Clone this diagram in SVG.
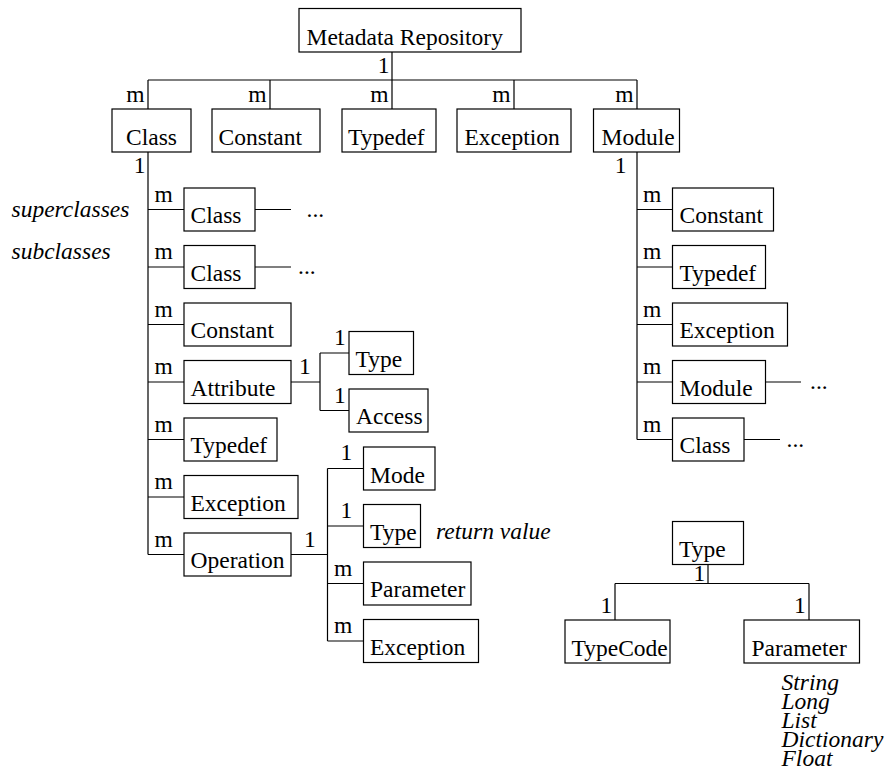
<svg xmlns="http://www.w3.org/2000/svg" width="885" height="781" viewBox="0 0 885 781" font-family="'Liberation Serif', 'DejaVu Serif', serif">
  <style>
    .box { fill: #fff; stroke: #000; stroke-width: 1.2; }
    .wire { fill: none; stroke: #000; stroke-width: 1.2; }
    text { font-family: 'Liberation Serif', 'DejaVu Serif', serif; font-size: 23.5px; fill: #000; }
    .it { font-style: italic; }
    .end { text-anchor: end; }
  </style>
  <rect width="885" height="781" fill="#fff"/>

  <!-- connectors -->
  <g id="connectors" class="wire">
    <path d="M392 52 V80 M148 80 H637 M148 80 V109 M270 80 V109 M392 80 V109 M514 80 V109 M637 80 V109"/>
    <!-- Class members -->
    <path d="M148 152 V554.5 M148 209.5 H184 M148 267 H184 M148 324.5 H184 M148 382 H184 M148 439.5 H184 M148 497 H184 M148 554.5 H184"/>
    <path d="M255 209.5 H291 M255 267 H291"/>
    <!-- Attribute -->
    <path d="M291 382 H320 M320 353 V410.5 M320 353 H349 M320 410.5 H349"/>
    <!-- Operation -->
    <path d="M291 554.5 H327.5 M327.5 468.5 V641 M327.5 468.5 H363.5 M327.5 526 H363.5 M327.5 583.5 H363.5 M327.5 641 H363.5"/>
    <!-- Module members -->
    <path d="M637 152 V439.5 M637 209.5 H672.5 M637 267 H672.5 M637 324.5 H672.5 M637 382 H672.5 M637 439.5 H672.5"/>
    <path d="M765.5 382 H801 M744 439.5 H780"/>
    <!-- Type -->
    <path d="M708 564.5 V583.5 M615 583.5 H809 M615 583.5 V620 M809 583.5 V620"/>
  </g>

  <!-- multiplicity labels -->
  <g id="multiplicities">
    <text class="end" x="389.5" y="72.5">1</text>
    <text class="end" x="144.5" y="101.5">m</text>
    <text class="end" x="266.5" y="101.5">m</text>
    <text class="end" x="388.5" y="101.5">m</text>
    <text class="end" x="510.5" y="101.5">m</text>
    <text class="end" x="633.5" y="101.5">m</text>
    <text class="end" x="145.5" y="173">1</text>
    <text class="end" x="626.5" y="173">1</text>
    <text x="154.5" y="201.5">m</text>
    <text x="154.5" y="259">m</text>
    <text x="154.5" y="316.5">m</text>
    <text x="154.5" y="374">m</text>
    <text x="154.5" y="431.5">m</text>
    <text x="154.5" y="489">m</text>
    <text x="154.5" y="546.5">m</text>
    <text x="299" y="373.5">1</text>
    <text x="334" y="345">1</text>
    <text x="334" y="403">1</text>
    <text x="304" y="546.5">1</text>
    <text x="340.5" y="460">1</text>
    <text x="340.5" y="518">1</text>
    <text x="334" y="575.5">m</text>
    <text x="334" y="632.5">m</text>
    <text x="643" y="201.5">m</text>
    <text x="643" y="259">m</text>
    <text x="643" y="316.5">m</text>
    <text x="643" y="374">m</text>
    <text x="643" y="431.5">m</text>
    <text x="693.5" y="580.5">1</text>
    <text x="600.5" y="612.5">1</text>
    <text x="794" y="612.5">1</text>
  </g>

  <!-- continuation marks and annotations -->
  <g id="annotations">
    <text x="306.5" y="216.5">...</text>
    <text x="298" y="274">...</text>
    <text x="810" y="389">...</text>
    <text x="786.5" y="446.5">...</text>
    <text class="it" x="11.5" y="217">superclasses</text>
    <text class="it" x="11.5" y="259">subclasses</text>
    <text class="it" x="436" y="538.5">return value</text>
    <text class="it" x="781.5" y="690">String</text>
    <text class="it" x="781.5" y="709">Long</text>
    <text class="it" x="781.5" y="728">List</text>
    <text class="it" x="781.5" y="747">Dictionary</text>
    <text class="it" x="781.5" y="766">Float</text>
  </g>

  <!-- top level -->
  <g id="n-repository"><rect class="box" x="299" y="8.5" width="222" height="43.5"/><text x="306.5" y="45">Metadata Repository</text></g>
  <g id="n-class"><rect class="box" x="112" y="109" width="79" height="43"/><text x="126" y="145">Class</text></g>
  <g id="n-constant"><rect class="box" x="212" y="109" width="108" height="43"/><text x="218.5" y="145">Constant</text></g>
  <g id="n-typedef"><rect class="box" x="342" y="109" width="94" height="43"/><text x="348" y="145">Typedef</text></g>
  <g id="n-exception"><rect class="box" x="457" y="109" width="114" height="43"/><text x="464.5" y="145">Exception</text></g>
  <g id="n-module"><rect class="box" x="593.5" y="109" width="86" height="43"/><text x="601.5" y="145">Module</text></g>

  <!-- class members -->
  <g id="c-superclass"><rect class="box" x="184" y="188" width="71" height="43"/><text x="190.5" y="223">Class</text></g>
  <g id="c-subclass"><rect class="box" x="184" y="245.5" width="71" height="43"/><text x="190.5" y="280.5">Class</text></g>
  <g id="c-constant"><rect class="box" x="184" y="303" width="107" height="43"/><text x="190.5" y="338">Constant</text></g>
  <g id="c-attribute"><rect class="box" x="184" y="360.5" width="107" height="43"/><text x="190.5" y="395.5">Attribute</text></g>
  <g id="c-typedef"><rect class="box" x="184" y="418" width="93" height="43"/><text x="190.5" y="453">Typedef</text></g>
  <g id="c-exception"><rect class="box" x="184" y="475.5" width="114" height="43"/><text x="190.5" y="510.5">Exception</text></g>
  <g id="c-operation"><rect class="box" x="184" y="533" width="107" height="43"/><text x="190.5" y="568">Operation</text></g>

  <!-- attribute parts -->
  <g id="a-type"><rect class="box" x="349" y="331.5" width="64.5" height="43"/><text x="355.5" y="366.5">Type</text></g>
  <g id="a-access"><rect class="box" x="349" y="389" width="79" height="43"/><text x="356" y="424">Access</text></g>

  <!-- operation parts -->
  <g id="o-mode"><rect class="box" x="363.5" y="447" width="71.5" height="43"/><text x="370" y="482.5">Mode</text></g>
  <g id="o-type"><rect class="box" x="363.5" y="504.5" width="57" height="43"/><text x="370" y="539.5">Type</text></g>
  <g id="o-parameter"><rect class="box" x="363.5" y="562" width="107.5" height="43"/><text x="370" y="597">Parameter</text></g>
  <g id="o-exception"><rect class="box" x="363.5" y="619.5" width="115" height="43"/><text x="370" y="654.5">Exception</text></g>

  <!-- module members -->
  <g id="m-constant"><rect class="box" x="672.5" y="188" width="101" height="43"/><text x="679.5" y="223">Constant</text></g>
  <g id="m-typedef"><rect class="box" x="672.5" y="245.5" width="93" height="43"/><text x="679.5" y="280.5">Typedef</text></g>
  <g id="m-exception"><rect class="box" x="672.5" y="303" width="115" height="43"/><text x="679.5" y="338">Exception</text></g>
  <g id="m-module"><rect class="box" x="672.5" y="360.5" width="93" height="43"/><text x="679.5" y="395.5">Module</text></g>
  <g id="m-class"><rect class="box" x="672.5" y="418" width="71.5" height="43"/><text x="679.5" y="453">Class</text></g>

  <!-- type structure -->
  <g id="t-type"><rect class="box" x="672.5" y="521.5" width="71" height="43"/><text x="679" y="557">Type</text></g>
  <g id="t-typecode"><rect class="box" x="565" y="620" width="105" height="43"/><text x="571.5" y="655.5">TypeCode</text></g>
  <g id="t-parameter"><rect class="box" x="744" y="620" width="115.5" height="43"/><text x="751.5" y="655.5">Parameter</text></g>
</svg>
